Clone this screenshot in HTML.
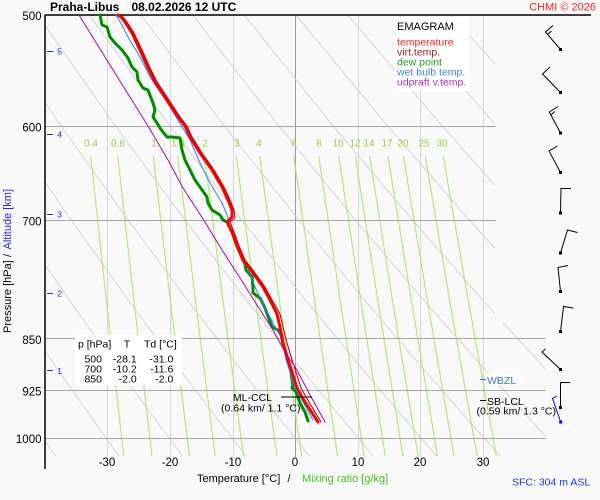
<!DOCTYPE html>
<html><head><meta charset="utf-8"><style>
html,body{margin:0;padding:0;background:#f9f9f9;}
svg{display:block;font-family:"Liberation Sans",Arial,sans-serif;}
</style></head><body>
<svg width="600" height="500" viewBox="0 0 600 500" xmlns="http://www.w3.org/2000/svg">
<defs>
<clipPath id="c"><polygon points="45,15 495,15 495,322 546,322 546,457 45,457"/></clipPath>
</defs>
<rect width="600" height="500" fill="#f9f9f9"/>

<!-- isotherms -->
<g stroke="#d6d6d6" stroke-width="1" fill="none">
<line x1="107.5" y1="15" x2="107.5" y2="457"/>
<line x1="170.5" y1="15" x2="170.5" y2="457"/>
<line x1="233.5" y1="15" x2="233.5" y2="457"/>
<line x1="358.5" y1="15" x2="358.5" y2="457"/>
<line x1="420.5" y1="15" x2="420.5" y2="457"/>
<line x1="483.5" y1="15" x2="483.5" y2="457"/>
</g>
<line x1="295.5" y1="15" x2="295.5" y2="457" stroke="#999" stroke-width="1"/>

<!-- dry adiabats -->
<g clip-path="url(#c)" stroke="#d4d4d4" stroke-width="1" fill="none">
<polyline points="-220.8,15 -156.5,126.3 -99.3,220.4 -47.7,301.8 -0.5,373.7 43,438 55.5,456.1"/>
<polyline points="-169.1,15 -102,126.3 -42.4,220.4 11.4,301.8 60.6,373.7 106,438 119,456.1"/>
<polyline points="-117.5,15 -47.6,126.3 14.5,220.4 70.5,301.8 121.7,373.7 169,438 182.5,456.1"/>
<polyline points="-65.8,15 6.9,126.3 71.4,220.4 129.6,301.8 182.9,373.7 232,438 246.1,456.1"/>
<polyline points="-14.1,15 61.3,126.3 128.3,220.4 188.7,301.8 244,373.7 295,438 309.6,456.1"/>
<polyline points="37.6,15 115.7,126.3 185.2,220.4 247.8,301.8 305.1,373.7 358,438 373.1,456.1"/>
<polyline points="89.3,15 170.2,126.3 242.1,220.4 306.9,301.8 366.3,373.7 421,438 436.7,456.1"/>
<polyline points="140.9,15 224.6,126.3 299,220.4 366,301.8 427.4,373.7 484,438 500.2,456.1"/>
<polyline points="192.6,15 279.1,126.3 355.9,220.4 425.1,301.8 488.5,373.7 547,438 563.7,456.1"/>
<polyline points="244.3,15 333.5,126.3 412.8,220.4 484.2,301.8 549.7,373.7"/>
<polyline points="296,15 387.9,126.3 469.7,220.4 543.3,301.8"/>
<polyline points="347.7,15 442.4,126.3 526.6,220.4"/>
<polyline points="399.3,15 496.8,126.3"/>
<polyline points="451,15 551.3,126.3"/>
</g>

<!-- mixing ratio lines -->
<g stroke="#a6ee6a" stroke-width="1.1" fill="none">
<polyline points="90.7,156 106.5,301.8 123.7,456"/>
<polyline points="117.7,156 134.1,301.8 152,456"/>
<polyline points="153.2,156 170.5,301.8 189.4,456"/>
<polyline points="177.7,156 195.6,301.8 215.2,456"/>
<polyline points="204.5,156 223.1,301.8 243.5,456"/>
<polyline points="236.2,156 255.7,301.8 276.9,456"/>
<polyline points="259.6,156 279.6,301.8 301.6,456"/>
<polyline points="293.7,156 314.7,301.8 337.6,456"/>
<polyline points="318.7,156 340.4,301.8 364.2,456"/>
<polyline points="338.7,156 360.9,301.8 385.3,456"/>
<polyline points="355.3,156 378,301.8 402.9,456"/>
<polyline points="369.6,156 392.7,301.8 418.1,456"/>
<polyline points="387.9,156 411.6,301.8 437.5,456"/>
<polyline points="403.4,156 427.6,301.8 454,456"/>
<polyline points="425.2,156 449.9,301.8 477.1,456"/>
<polyline points="443.2,156 468.5,301.8 496.3,456"/>
</g>
<g font-size="10" fill="#9ad040" text-anchor="middle">
<text x="91" y="146.5">0.4</text>
<text x="118" y="146.5">0.6</text>
<text x="154" y="146.5">1</text>
<text x="178" y="146.5">1.4</text>
<text x="205" y="146.5">2</text>
<text x="237" y="146.5">3</text>
<text x="259" y="146.5">4</text>
<text x="294" y="146.5">6</text>
<text x="319" y="146.5">8</text>
<text x="338" y="146.5">10</text>
<text x="355" y="146.5">12</text>
<text x="369" y="146.5">14</text>
<text x="387" y="146.5">17</text>
<text x="403" y="146.5">20</text>
<text x="424" y="146.5">25</text>
<text x="442" y="146.5">30</text>
</g>

<!-- pressure lines -->
<g stroke="#a6a6a6" stroke-width="1">
<line x1="45" y1="126.5" x2="496" y2="126.5"/>
<line x1="45" y1="220.5" x2="496" y2="220.5"/>
<line x1="45" y1="338.5" x2="546" y2="338.5"/>
<line x1="45" y1="390.5" x2="546" y2="390.5"/>
<line x1="45" y1="438.5" x2="546" y2="438.5"/>
</g>

<!-- axes -->
<line x1="45" y1="14.5" x2="45" y2="469" stroke="#000" stroke-width="1.5"/>
<line x1="45" y1="15" x2="591" y2="15" stroke="#000" stroke-width="1.5"/>

<!-- legend box -->
<rect x="395" y="17" width="74" height="74" fill="#fff"/>
<text x="397" y="30" font-size="11" fill="#000">EMAGRAM</text>
<g font-size="10.5">
<text x="397" y="45.5" fill="#ff2020">temperature</text>
<text x="397" y="55.5" fill="#a02020">virt.temp.</text>
<text x="397" y="65.5" fill="#20a020">dew point</text>
<text x="397" y="75.5" fill="#4080f0">wet bulb temp.</text>
<text x="397" y="85.5" fill="#b030c0">udpraft v.temp.</text>
</g>

<!-- table -->
<rect x="75" y="335" width="107" height="50" fill="#fff"/>
<g font-size="10.5" fill="#000">
<text x="78" y="347.5">p [hPa]</text>
<text x="127" y="347.5" text-anchor="middle">T</text>
<text x="144" y="347.5">Td [°C]</text>
<g text-anchor="end">
<text x="102" y="362.3">500</text><text x="136.7" y="362.3">-28.1</text><text x="173.3" y="362.3">-31.0</text>
<text x="102" y="372.3">700</text><text x="136.7" y="372.3">-10.2</text><text x="173.3" y="372.3">-11.6</text>
<text x="102" y="382.3">850</text><text x="136.7" y="382.3">-2.0</text><text x="173.3" y="382.3">-2.0</text>
</g>
</g>

<!-- sounding curves -->
<g fill="none" stroke-linejoin="round" stroke-linecap="round">
<polyline stroke="#008c00" stroke-width="3" points="100,15 102,25 107,27 110,37 115,43 122,50 128,58 132,67 137,72 138,80 143,88 148,90 153,103 155,110 153,117 157,123 160,128 163,132 167,137 172,137 180,138 182,150 185,160 190,170 195,180 200,187 207,197 208,203 212,210 220,215 223,220 227,222 232,232 237,246 243,260 245,264 246,270 252,277 253,287 253,293 260,298 265,308 272,327 278,330 281,335 283,343 288,360 291,372 293,385 292,388 296,392 300,403 305,412 308,421"/>
<polyline stroke="#3a7cff" stroke-width="1" points="116,15 122,25 128,37 140,57 150,77 160,92 170,107 181,125 190,140 200,163 210,183 222,203 227,215 229,221 231,232 236,246 242,260 248,268 255,287 262,302 270,317 275,327 281,337 286,360 290,372 295,388 302,400 313,420"/>
<polyline stroke="#ff0000" stroke-width="3" points="118,15 121,17 125,22 132,33 140,50 148,68 155,82 167,100 178,117 185,126 190,137 200,153 212,170 222,187 228,200 232,210 232,217 227,222 232,232 237,246 243,260 253,273 263,287 270,300 277,314 280,327 283,343 288,360 292,372 297,388 305,402 318,422"/>
<polyline stroke="#a00000" stroke-width="1" points="120,15 123,17 127,22 134,33 142,50 150,68 157,82 169,100 180,117 187,126 192,137 202,153 214,170 224,187 230,200 234,210 235,218 230,222 234,232 239,246 245,260 255,273 265,287 272,300 280,314 283,327 287,343 292,360 296,372 301,388 309,402 321,422"/>
<polyline stroke="#b000b0" stroke-width="1" points="79,15 110,65 148,126 168,160 183,188 205,222 222,250 240,278 257,305 273,330 285,352 297,370 310,395 325,422"/>
</g>

<!-- ML-CCL -->
<line x1="281" y1="397" x2="312" y2="397" stroke="#000" stroke-width="1"/>
<g font-size="10.5" fill="#000">
<text x="272" y="401" text-anchor="end">ML-CCL</text>
<text x="221" y="411.5">(0.64 km/ 1.1 °C)</text>
</g>

<!-- WBZL / SB-LCL -->
<rect x="485" y="374" width="37" height="11" fill="#fff"/>
<line x1="480" y1="379.5" x2="486" y2="379.5" stroke="#3377dd" stroke-width="1"/>
<text x="487" y="384" font-size="10.5" fill="#3377dd">WBZL</text>
<line x1="480" y1="400.5" x2="486" y2="400.5" stroke="#000" stroke-width="1"/>
<text x="487" y="405" font-size="10.5" fill="#000">SB-LCL</text>
<text x="476.5" y="414.5" font-size="10.5" fill="#000">(0.59 km/ 1.3 °C)</text>

<!-- wind barbs -->
<g stroke="#000" stroke-width="1" fill="none">
<polyline points="560.5,49.5 545.5,32 553,25.5"/>
<line x1="547.5" y1="34.5" x2="551.5" y2="31"/>
<polyline points="560.5,92.5 542.5,74 550,67"/>
<polyline points="560.5,133 549.3,112 558,106.5"/>
<line x1="550.8" y1="115" x2="555" y2="111.5"/>
<polyline points="560.5,172.5 549,151 557.5,146"/>
<polyline points="560.5,213 561,188.5 571,188.5"/>
<polyline points="560.5,253 567.5,230 577.5,232.5"/>
<polyline points="560.5,291.5 558,267.5 568,265.5"/>
<polyline points="560.5,331.5 563.5,306.5 573.5,308"/>
<polyline points="560.5,369.5 542,352 545.5,349"/>
<polyline points="560.5,407.5 560.5,382.5 570,382.5"/>
</g>
<g fill="#000">
<rect x="559" y="48" width="3" height="3"/>
<rect x="559" y="91" width="3" height="3"/>
<rect x="559" y="131.5" width="3" height="3"/>
<rect x="559" y="171" width="3" height="3"/>
<rect x="559" y="211.5" width="3" height="3"/>
<rect x="559" y="251.5" width="3" height="3"/>
<rect x="559" y="290" width="3" height="3"/>
<rect x="559" y="330" width="3" height="3"/>
<rect x="559" y="368" width="3" height="3"/>
<rect x="559" y="406" width="3" height="3"/>
</g>
<polyline points="560.7,422 552.5,398.5 557,396" stroke="#0000ee" stroke-width="1" fill="none"/>
<rect x="559.2" y="420.5" width="3" height="3" fill="#0000ee"/>

<!-- altitude markers -->
<g stroke="#2222ee" stroke-width="1">
<line x1="47" y1="51.5" x2="53" y2="51.5"/>
<line x1="47" y1="134.5" x2="53" y2="134.5"/>
<line x1="47" y1="214.5" x2="53" y2="214.5"/>
<line x1="47" y1="293.5" x2="53" y2="293.5"/>
<line x1="47" y1="370.5" x2="53" y2="370.5"/>
</g>
<g font-size="8.5" fill="#2222ee">
<text x="57.3" y="54.3">5</text>
<text x="57.3" y="137.3">4</text>
<text x="57.3" y="217.3">3</text>
<text x="57.3" y="296.6">2</text>
<text x="57.3" y="374">1</text>
</g>

<!-- pressure labels -->
<g font-size="11.5" fill="#000" text-anchor="end">
<text x="41.5" y="20">500</text>
<text x="41.5" y="131.3">600</text>
<text x="41.5" y="225.4">700</text>
<text x="41.5" y="343.8">850</text>
<text x="41.5" y="395.4">925</text>
<text x="41.5" y="443">1000</text>
</g>

<!-- temperature labels -->
<g font-size="11.5" fill="#000" text-anchor="middle">
<text x="107" y="466">-30</text>
<text x="170" y="466">-20</text>
<text x="233" y="466">-10</text>
<text x="295" y="466">0</text>
<text x="358" y="466">10</text>
<text x="420" y="466">20</text>
<text x="483" y="466">30</text>
</g>

<!-- axis titles -->
<g font-size="11">
<text x="197" y="482" fill="#000">Temperature [°C]</text>
<text x="287.5" y="482" fill="#000">/</text>
<text x="302" y="482" fill="#44c022">Mixing ratio [g/kg]</text>
<text transform="translate(11,333) rotate(-90)" fill="#000">Pressure [hPa]</text>
<text transform="translate(11,257) rotate(-90)" fill="#000">/</text>
<text transform="translate(11,249.5) rotate(-90)" fill="#2222ee">Altitude [km]</text>
</g>

<text x="512" y="485.5" font-size="10.5" fill="#2233ee">SFC: 304 m ASL</text>

<!-- title -->
<text x="50" y="11" font-size="12" font-weight="bold" fill="#000">Praha-Libus</text>
<text x="131.5" y="11" font-size="12" font-weight="bold" fill="#000">08.02.2026 12 UTC</text>
<text x="596" y="10.5" font-size="11" fill="#ff2020" text-anchor="end">CHMI © 2026</text>
</svg>
</body></html>
